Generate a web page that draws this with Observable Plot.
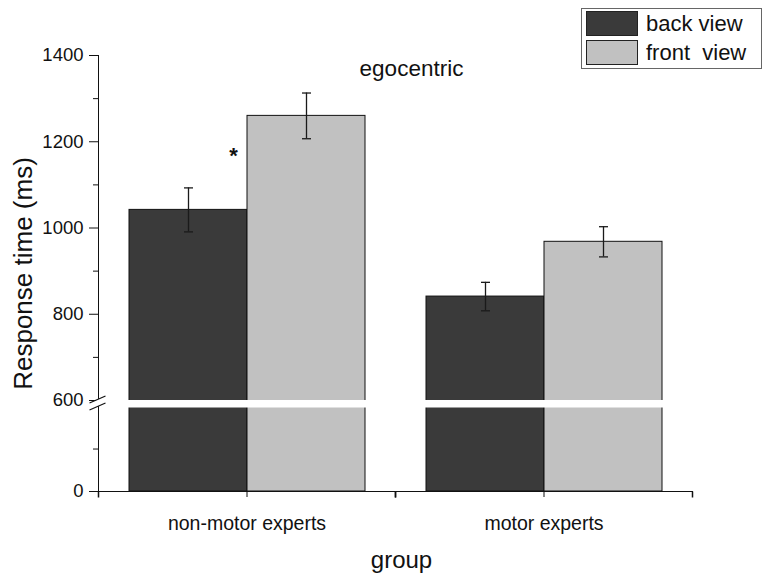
<!DOCTYPE html>
<html>
<head>
<meta charset="utf-8">
<script src="https://cdn.jsdelivr.net/npm/d3@7"></script>
<script src="https://cdn.jsdelivr.net/npm/@observablehq/plot@0.6"></script>
<style>
  body { margin: 0; background: white; }
  #wrap { position: relative; width: 770px; height: 581px; font-family: "Liberation Sans", Arial, sans-serif; }
  #legend { position: absolute; left: 581px; top: 8px; width: 179px; height: 59px; border: 1px solid #666; background: white; }
  .sw { position: absolute; left: 4px; width: 50px; height: 23px; border: 1.5px solid #222; }
  .lt { position: absolute; left: 64px; font-size: 22px; line-height: 26px; white-space: pre; color: #111; }
</style>
</head>
<body>
<div id="wrap"></div>
<script>
// ---- data ----
const groups = ["non-motor experts", "motor experts"];
const views = ["back view", "front view"];
const viewColors = ["#3a3a3a", "#c1c1c1"];
const backMeans = [1042, 841];
const frontMeans = [1260, 968];
const backErr = [51, 33];
const frontErr = [53, 35];
const majorTicks = [0, 600, 800, 1000, 1200, 1400];
const minorTicks = [300, 700, 900, 1100, 1300];
const breakLow = 590;   // axis break band (data units)
const breakHigh = 600;
const sigLabel = ["*"];
const sigValue = [1175];

const rows = groups.flatMap((g, i) => [
  {group: g, view: views[0], mean: backMeans[i], err: backErr[i]},
  {group: g, view: views[1], mean: frontMeans[i], err: frontErr[i]}
]);
const sig = sigLabel.map((t, i) => ({group: groups[0], view: views[0], y: sigValue[i], label: t}));

// custom symbols
const vtick = {draw(ctx) { ctx.moveTo(0, 0); ctx.lineTo(0, 6); }};
const cap = {draw(ctx) { ctx.moveTo(-4.5, 0); ctx.lineTo(4.5, 0); }};
const breakFill = {draw(ctx) { ctx.moveTo(-9, 0); ctx.lineTo(7, -7); ctx.lineTo(7, 0); ctx.lineTo(-9, 7); ctx.closePath(); }};
const breakLines = {draw(ctx) { ctx.moveTo(-9, 0); ctx.lineTo(7, -7); ctx.moveTo(-9, 7); ctx.lineTo(7, 0); }};

const chart = Plot.plot({
  width: 770,
  height: 581,
  marginLeft: 98,
  marginRight: 78,
  marginTop: 55,
  marginBottom: 90,
  style: {fontFamily: "'Liberation Sans', Arial, sans-serif", fontSize: "18px", color: "#111", background: "white"},
  fx: {domain: groups, padding: 0, label: null},
  x: {domain: views, paddingInner: 0, paddingOuter: 0.258, axis: null},
  y: {type: "linear", domain: [0, breakLow, breakHigh, 1400], range: [491, 407.5, 400, 55], label: null},
  color: {domain: views, range: viewColors},
  marks: [
    Plot.barY(rows, {fx: "group", x: "view", y1: 0, y2: "mean", fill: "view", stroke: "#111", strokeWidth: 1}),
    Plot.rectY([0], {y1: () => breakLow, y2: () => breakHigh, fill: "white", insetLeft: 2}),
    Plot.ruleX(rows, {fx: "group", x: "view", y1: d => d.mean - d.err, y2: d => d.mean + d.err, stroke: "#1a1a1a", strokeWidth: 1.3}),
    Plot.dot(rows, {fx: "group", x: "view", y: d => d.mean + d.err, symbol: cap, stroke: "#1a1a1a", strokeWidth: 1.3, fill: "none"}),
    Plot.dot(rows, {fx: "group", x: "view", y: d => d.mean - d.err, symbol: cap, stroke: "#1a1a1a", strokeWidth: 1.3, fill: "none"}),
    Plot.text(sig, {fx: "group", x: "view", y: "y", text: "label", dx: 45, dy: 3, fontSize: 22, fontWeight: "bold"}),
    Plot.frame({anchor: "left", facet: "super", stroke: "#111"}),
    Plot.frame({anchor: "bottom", facet: "super", stroke: "#111"}),
    Plot.dot([0], {frameAnchor: "bottom-left", symbol: vtick, stroke: "#111", fill: "none"}),
    Plot.dot([0], {frameAnchor: "bottom-right", symbol: vtick, stroke: "#111", fill: "none"}),
    Plot.axisY(majorTicks, {tickSize: 9, tickPadding: 6, fontSize: 18.5, tickFormat: d => String(d), label: null}),
    Plot.axisY(minorTicks, {tickSize: 5, tickFormat: () => "", label: null}),
    Plot.axisFx({anchor: "bottom", tickSize: 6, tickPadding: 19, fontSize: 19.5, label: null}),
    Plot.dot([breakHigh], {y: d => d, frameAnchor: "left", dy: 2.5, symbol: breakFill, fill: "white", stroke: "none", facetAnchor: "left"}),
    Plot.dot([breakHigh], {y: d => d, frameAnchor: "left", dy: 2.5, symbol: breakLines, fill: "none", stroke: "#111", strokeWidth: 1.2, facetAnchor: "left"}),
    Plot.text(["egocentric"], {frameAnchor: "top", lineAnchor: "middle", dx: 16, dy: 13, fontSize: 22.5, facet: "super"}),
    Plot.text(["group"], {frameAnchor: "bottom", lineAnchor: "middle", dx: 6, dy: 69, fontSize: 24, facet: "super"}),
    Plot.text(["Response time (ms)"], {frameAnchor: "left", textAnchor: "middle", lineAnchor: "middle", dx: -75, rotate: -90, fontSize: 26, facet: "super"})
  ]
});

const wrap = document.getElementById("wrap");
wrap.appendChild(chart);

// legend (HTML overlay, top right)
const legend = document.createElement("div");
legend.id = "legend";
const legendLabels = ["back view", "front  view"];
views.forEach((v, i) => {
  const sw = document.createElement("div");
  sw.className = "sw";
  sw.style.top = (2 + i * 29) + "px";
  sw.style.background = viewColors[i];
  legend.appendChild(sw);
  const t = document.createElement("div");
  t.className = "lt";
  t.style.top = (2 + i * 29) + "px";
  t.textContent = legendLabels[i];
  legend.appendChild(t);
});
wrap.appendChild(legend);
</script>
</body>
</html>
